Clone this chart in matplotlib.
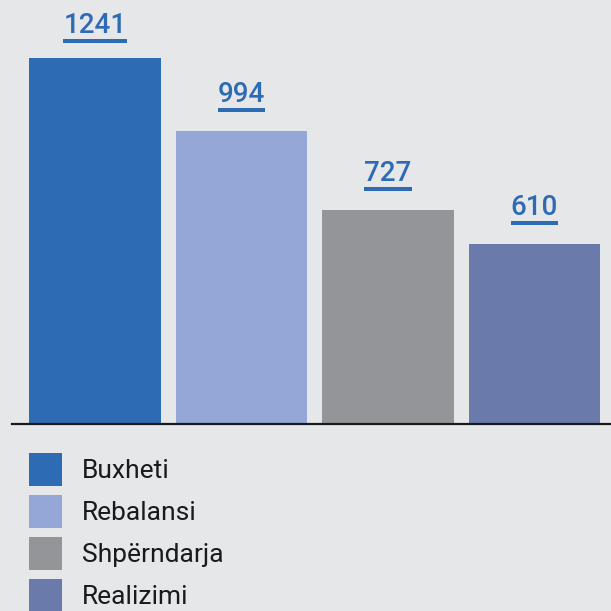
import matplotlib
matplotlib.use("Agg")
import matplotlib.pyplot as plt
from matplotlib.lines import Line2D
from matplotlib.patches import Patch

# Data
categories = ["Buxheti", "Rebalansi", "Shpërndarja", "Realizimi"]
values = [1241, 994, 727, 610]
colors = ["#2d6bb4", "#94a7d6", "#939598", "#6a7bab"]

bg = "#e6e7e9"
label_color = "#2d6bb4"

plt.rcParams["font.family"] = ["Roboto", "DejaVu Sans"]

fig = plt.figure(figsize=(6.11, 6.11), dpi=100, facecolor=bg)

# bar area: from x=12px to right edge, baseline at y=424px
px_per_unit = 0.2949
ax = fig.add_axes([12 / 611, (611 - 424) / 611, 599 / 611, 424 / 611])
ax.set_facecolor(bg)

x = list(range(len(values)))
ax.bar(x, values, width=0.9, color=colors)

ax.set_xlim(-83 / 146.5, -83 / 146.5 + 599 / 146.5)
ax.set_ylim(0, 424 / px_per_unit)

for side in ["top", "right", "left"]:
    ax.spines[side].set_visible(False)
ax.spines["bottom"].set_color("#1a1a1a")
ax.spines["bottom"].set_linewidth(1.6)
ax.set_xticks([])
ax.set_yticks([])

# value labels, kept below the top edge
texts = []
for xi, v in zip(x, values):
    gap_px = min(29, 424 - 33 - v * px_per_unit)
    t = ax.annotate(str(v), (xi, v), xytext=(0, gap_px * 0.72),
                    textcoords="offset points", ha="center", va="baseline",
                    fontsize=20, fontweight="medium", color=label_color)
    texts.append(t)

# underline under each value label
fig.canvas.draw()
renderer = fig.canvas.get_renderer()
inv = fig.transFigure.inverted()
for t, xi, v in zip(texts, x, values):
    bb = t.get_window_extent(renderer)
    base = ax.transData.transform((xi, v))[1] + t.xyann[1] / 0.72
    (x0, y0), (x1, _) = inv.transform([(bb.x0, base - 8), (bb.x1, base - 8)])
    fig.add_artist(Line2D([x0, x1], [y0, y0], color=label_color, linewidth=2.9,
                          solid_capstyle="butt"))

# legend
handles = [Patch(facecolor=c, edgecolor="none") for c in colors]
fig.legend(handles, categories, loc="upper left",
           bbox_to_anchor=(29 / 611, 1 - 453 / 611), frameon=False,
           prop={"size": 19, "weight": "normal"},
           handlelength=1.25, handleheight=1.547,
           handletextpad=0.74, labelspacing=0.341, borderpad=0,
           borderaxespad=0, labelcolor="#1a1a1a")

fig.savefig("out.png", dpi=100, facecolor=bg)
